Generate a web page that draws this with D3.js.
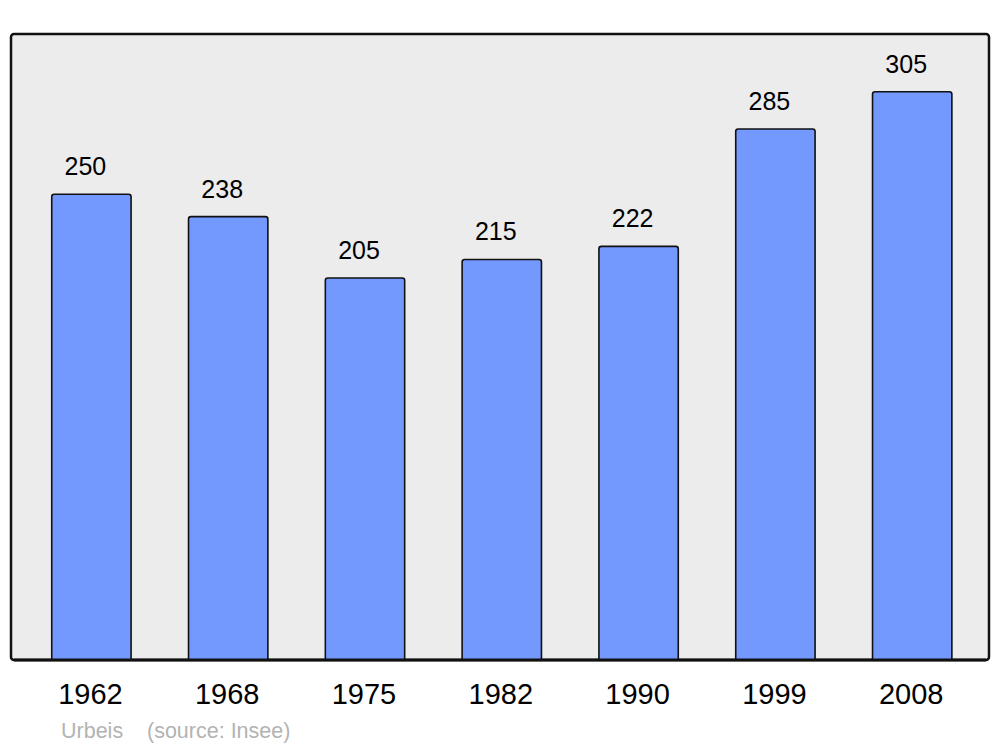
<!DOCTYPE html>
<html>
<head>
<meta charset="utf-8">
<script src="https://cdn.jsdelivr.net/npm/d3@7"></script>
<style>
  html, body { margin: 0; padding: 0; background: #fff; }
  text { font-family: "Liberation Sans", Arial, sans-serif; }
</style>
</head>
<body>
<div id="chart"></div>
<script>
// population data
const years = ['1962', '1968', '1975', '1982', '1990', '1999', '2008'];
const population = [250, 238, 205, 215, 222, 285, 305];
const commune = 'Urbeis';
const sourceNote = '(source: Insee)';

const width = 1000;
const height = 747;
const panel = { left: 11, top: 34, right: 989, bottom: 660 };

const svg = d3.select('#chart')
    .append('svg')
    .attr('width', width)
    .attr('height', height);

// Background panel
svg.append('rect')
    .attr('x', panel.left)
    .attr('y', panel.top)
    .attr('width', panel.right - panel.left)
    .attr('height', panel.bottom - panel.top)
    .attr('rx', 3)
    .attr('fill', '#ececec')
    .attr('stroke', '#111')
    .attr('stroke-width', 2.5);

const x = d3.scaleBand()
    .domain(years)
    .range([23, 980.6])
    .paddingInner(0.42)
    .paddingOuter(0.21);

const y = d3.scaleLinear()
    .domain([0, 336])
    .range([panel.bottom, panel.top]);

const bars = svg.append('g');

years.forEach((yr, i) => {
    const v = population[i];
    const bx = x(yr);
    const bw = x.bandwidth();
    const top = y(v);
    const r = 2.5;
    // bar with rounded top corners
    const path = `M${bx},${panel.bottom} V${top + r} Q${bx},${top} ${bx + r},${top} ` +
        `H${bx + bw - r} Q${bx + bw},${top} ${bx + bw},${top + r} V${panel.bottom}`;
    bars.append('path')
        .attr('d', path)
        .attr('fill', '#7399ff')
        .attr('stroke', '#111')
        .attr('stroke-width', 1.6);

    // value label
    svg.append('text')
        .attr('x', bx + bw / 2 - 6)
        .attr('y', top - 19)
        .attr('text-anchor', 'middle')
        .attr('font-size', '25px')
        .attr('fill', '#000')
        .text(v);

    // year label
    svg.append('text')
        .attr('x', bx + bw / 2 - 1)
        .attr('y', 704)
        .attr('text-anchor', 'middle')
        .attr('font-size', '29px')
        .attr('fill', '#000')
        .text(yr);
});

// redraw bottom border over bars (keep the rounded corners)
svg.append('line')
    .attr('x1', panel.left + 3)
    .attr('x2', panel.right - 3)
    .attr('y1', panel.bottom)
    .attr('y2', panel.bottom)
    .attr('stroke', '#111')
    .attr('stroke-width', 3);

// footer
svg.append('text')
    .attr('x', 61)
    .attr('y', 738)
    .attr('font-size', '21.5px')
    .attr('fill', '#b3b3b3')
    .text(commune);

svg.append('text')
    .attr('x', 147)
    .attr('y', 738)
    .attr('font-size', '21.5px')
    .attr('fill', '#b3b3b3')
    .text(sourceNote);
</script>
</body>
</html>
